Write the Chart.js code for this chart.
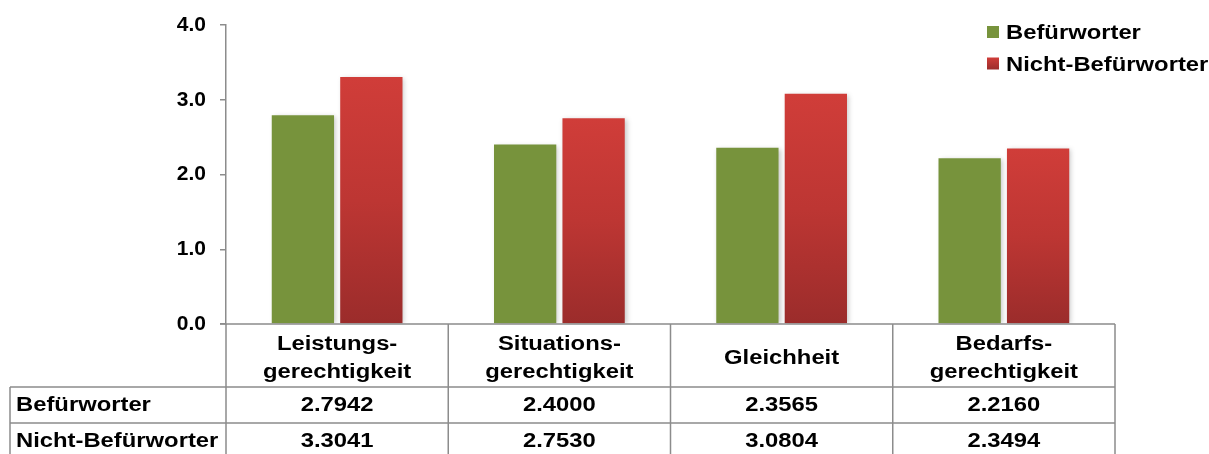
<!DOCTYPE html>
<html>
<head>
<meta charset="utf-8">
<script src="https://cdn.jsdelivr.net/npm/chart.js@4"></script>
<style>
html,body{margin:0;padding:0;background:#fff;}
#wrap{width:1209px;height:454px;position:relative;}
</style>
</head>
<body>
<div id="wrap"><canvas id="c" width="1209" height="454"></canvas></div>
<script>
const categories = [["Leistungs-","gerechtigkeit"],["Situations-","gerechtigkeit"],["Gleichheit"],["Bedarfs-","gerechtigkeit"]];
const seriesNames = ["Befürworter","Nicht-Befürworter"];
const befuerworter = [2.7942, 2.4000, 2.3565, 2.2160];
const nichtBefuerworter = [3.3041, 2.7530, 3.0804, 2.3494];
const yTicks = [0, 1, 2, 3, 4];

const FONT = "'Liberation Sans', Arial, sans-serif";
const FS = 20;
const SX = 1.19;
const GREEN = '#77933c';
const LINE = '#8c8c8c';

function redGradient(ctx) {
  const chart = ctx.chart;
  const ca = chart.chartArea;
  if (!ca || ctx.type !== 'data') return '#c0392f';
  const y = chart.scales.y;
  const top = y.getPixelForValue(ctx.raw);
  const bottom = y.getPixelForValue(0);
  const g = chart.ctx.createLinearGradient(0, top, 0, bottom);
  g.addColorStop(0, '#d03d39');
  g.addColorStop(0.5, '#bd3633');
  g.addColorStop(1, '#9b2c2b');
  return g;
}

const shadowPlugin = {
  id: 'shadow',
  beforeDatasetsDraw(chart) {
    const c = chart.ctx;
    c.save();
    c.shadowColor = 'rgba(0,0,0,0.22)';
    c.shadowBlur = 5;
    c.shadowOffsetX = 2;
    c.shadowOffsetY = 1;
  },
  afterDatasetsDraw(chart) { chart.ctx.restore(); }
};

function txt(c, t, x, y, align) {
  c.save();
  c.translate(x, y);
  c.scale(SX, 1);
  c.textAlign = align;
  c.fillText(t, 0, 0);
  c.restore();
}

const tablePlugin = {
  id: 'dataTable',
  afterDraw(chart) {
    const c = chart.ctx;
    const ca = chart.chartArea;
    const x = chart.scales.x;
    const n = categories.length;
    const w = (ca.right - ca.left) / n;
    const tableLeft = 10;
    const headerBottom = ca.bottom + 63;
    const rowH = 36;
    const rowsBottom = headerBottom + rowH * 2;
    c.save();
    c.strokeStyle = LINE;
    c.lineWidth = 1.5;
    c.beginPath();
    c.moveTo(ca.left - 6, ca.bottom); c.lineTo(ca.right, ca.bottom);
    for (let r = 0; r < 2; r++) {
      const yy = headerBottom + r * rowH;
      c.moveTo(tableLeft, yy); c.lineTo(ca.right, yy);
    }
    c.moveTo(tableLeft, rowsBottom); c.lineTo(ca.right, rowsBottom);
    c.moveTo(tableLeft, headerBottom); c.lineTo(tableLeft, rowsBottom);
    for (let i = 0; i <= n; i++) {
      const xx = ca.left + i * w;
      c.moveTo(xx, ca.bottom); c.lineTo(xx, rowsBottom);
    }
    c.stroke();

    c.fillStyle = '#000';
    c.font = 'bold ' + FS + 'px ' + FONT;
    c.textBaseline = 'alphabetic';
    const cap = 7;
    for (let i = 0; i < n; i++) {
      const cx = x.getPixelForValue(i);
      const lines = categories[i];
      const mid = ca.bottom + 32.5;
      const lh = 28;
      lines.forEach((t, k) => {
        txt(c, t, cx, mid + (k - (lines.length - 1) / 2) * lh + cap, 'center');
      });
    }
    const rows = [befuerworter, nichtBefuerworter];
    rows.forEach((vals, r) => {
      const cy = headerBottom + r * rowH + 17;
      txt(c, seriesNames[r], tableLeft + 6, cy + cap, 'left');
      vals.forEach((v, i) => txt(c, v.toFixed(4), x.getPixelForValue(i), cy + cap, 'center'));
    });

    const lx = 987, ly = [32, 63.5];
    seriesNames.forEach((name, k) => {
      if (k === 0) c.fillStyle = GREEN;
      else {
        const g = c.createLinearGradient(0, ly[k] - 6, 0, ly[k] + 6);
        g.addColorStop(0, '#d03d39'); g.addColorStop(1, '#9b2c2b');
        c.fillStyle = g;
      }
      c.fillRect(lx, ly[k] - 6, 12, 12);
      c.fillStyle = '#000';
      txt(c, name, lx + 19, ly[k] + cap, 'left');
    });
    c.restore();
  }
};

new Chart(document.getElementById('c'), {
  type: 'bar',
  data: {
    labels: categories.map(l => l.join('')),
    datasets: [
      { label: seriesNames[0], data: befuerworter, backgroundColor: GREEN, borderWidth: 0,
        categoryPercentage: 0.616, barPercentage: 0.91 },
      { label: seriesNames[1], data: nichtBefuerworter, backgroundColor: redGradient, borderWidth: 0,
        categoryPercentage: 0.616, barPercentage: 0.91 }
    ]
  },
  options: {
    responsive: false,
    animation: false,
    devicePixelRatio: 1,
    layout: { padding: { top: 25, right: 94, bottom: 130, left: 0 } },
    plugins: { legend: { display: false }, tooltip: { enabled: false } },
    scales: {
      x: { display: false, offset: true, grid: { display: false } },
      y: {
        min: yTicks[0], max: yTicks[yTicks.length - 1],
        afterFit(s) { s.width = 226; s.paddingTop = 0; s.paddingBottom = 0; },
        afterBuildTicks(s) { s.ticks = yTicks.map(v => ({ value: v })); },
        border: { display: true, color: LINE, width: 1.5 },
        grid: { drawOnChartArea: false, drawTicks: true, tickLength: 6, color: LINE, lineWidth: 1.5 },
        ticks: {
          padding: 14,
          color: '#000',
          font: { family: FONT, size: 21, weight: 'bold' },
          callback: v => Number(v).toFixed(1)
        }
      }
    }
  },
  plugins: [shadowPlugin, tablePlugin]
});
</script>
</body>
</html>
